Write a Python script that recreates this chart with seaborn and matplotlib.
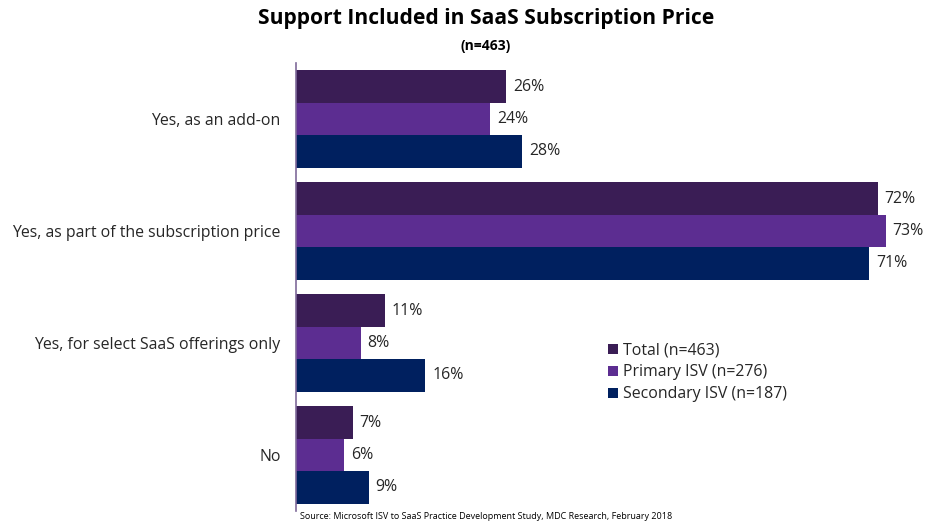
import matplotlib
matplotlib.use("Agg")
import matplotlib.pyplot as plt
import seaborn as sns
import pandas as pd

categories = [
    "Yes, as an add-on",
    "Yes, as part of the subscription price",
    "Yes, for select SaaS offerings only",
    "No",
]
series = ["Total (n=463)", "Primary ISV (n=276)", "Secondary ISV (n=187)"]
total = [26, 72, 11, 7]
primary = [24, 73, 8, 6]
secondary = [28, 71, 16, 9]
colors = ["#3A1D55", "#5C2D91", "#00205F"]

rows = []
for name, vals in zip(series, [total, primary, secondary]):
    for cat, v in zip(categories, vals):
        rows.append({"category": cat, "group": name, "value": v})
df = pd.DataFrame(rows)

sns.set_theme(style="white")
plt.rcParams["font.family"] = ["Open Sans", "DejaVu Sans"]

fig = plt.figure(figsize=(9.27, 5.23), dpi=100)
ax = fig.add_axes([296 / 927, 12 / 523, 630 / 927, 448 / 523])

sns.barplot(data=df, y="category", x="value", hue="group", order=categories,
            hue_order=series, palette=colors, orient="h", width=0.867,
            saturation=1, linewidth=0, ax=ax, legend=True)

ax.set_xlim(0, 78)
ax.set_ylim(3.5, -0.5)
ax.set_xlabel("")
ax.set_ylabel("")
ax.set_xticks([])
ax.tick_params(axis="y", length=0, pad=11, labelsize=11.4, labelcolor="#262626")
for s in ["top", "right", "bottom"]:
    ax.spines[s].set_visible(False)
ax.spines["left"].set_color("#7F6A9A")
ax.spines["left"].set_linewidth(1.2)

for container in ax.containers:
    ax.bar_label(container, fmt="%g%%", padding=5, fontsize=11.4, color="#262626")

leg = ax.legend(loc="upper left", bbox_to_anchor=(306 / 630, 1 - 273 / 448),
                frameon=False, fontsize=11.4, handlelength=0.6, handleheight=0.6,
                handletextpad=0.35, labelspacing=0.38, borderaxespad=0)
for t in leg.get_texts():
    t.set_color("#262626")

fig.text(486 / 927, 0.985, "Support Included in SaaS Subscription Price", ha="center", va="top",
         fontsize=15.1, fontweight="bold", color="#000000")
fig.text(486 / 927, 0.925, "(n=463)", ha="center", va="top", fontsize=10,
         fontweight="bold", color="#000000")
fig.text(300 / 927, 0.004, "Source: Microsoft ISV to SaaS Practice Development Study, MDC Research, February 2018",
         ha="left", va="bottom", fontsize=6.5, color="#000000")

fig.savefig("out.png", dpi=100)
